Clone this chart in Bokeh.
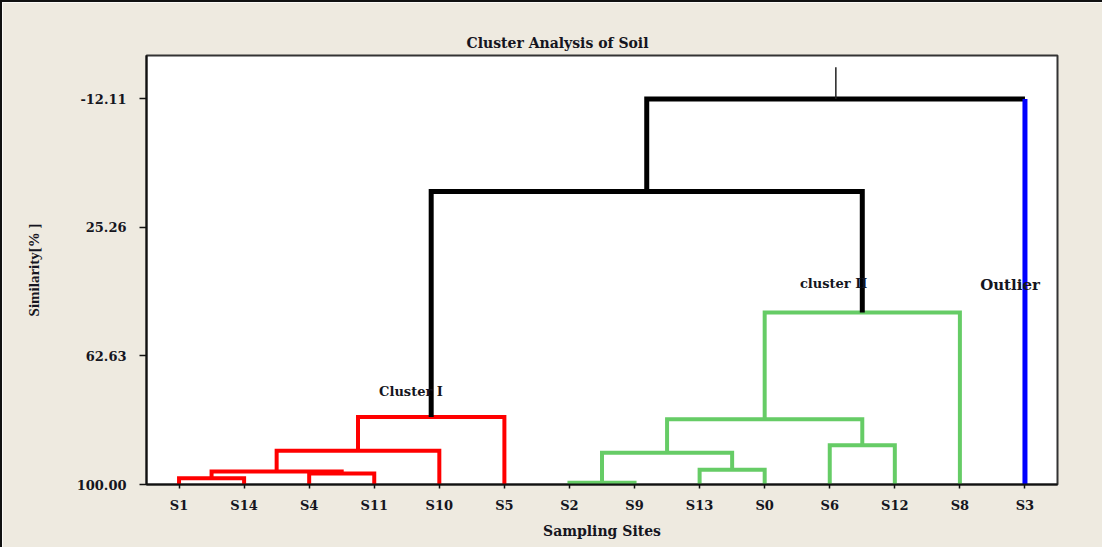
from bokeh.plotting import figure
from bokeh.models import Range1d, FixedTicker, Label, Title
from bokeh.embed import file_html
from bokeh.resources import INLINE

# ---------------- data ----------------
leaves = ["S1", "S14", "S4", "S11", "S10", "S5", "S2", "S9", "S13", "S0", "S6", "S12", "S8", "S3"]
y_ticks = [-12.11, 25.26, 62.63, 100.00]
y_tick_labels = ["-12.11", "25.26", "62.63", "100.00"]

# linkage: ids 0..13 are the leaves, merges get ids 14.. in order
merge_left = [0, 2, 14, 16, 17, 6, 8, 19, 10, 21, 23, 18, 25]
merge_right = [1, 3, 15, 4, 5, 7, 9, 20, 11, 22, 12, 24, 13]
merge_sim = [98.2, 96.8, 96.2, 90.2, 80.4, 99.5, 95.7, 90.8, 88.6, 81.0, 50.0, 14.8, -12.11]
merge_group = ["I", "I", "I", "I", "I", "II", "II", "II", "II", "II", "II", "root", "root"]
right_leg_group = ["I", "I", "I", "I", "I", "II", "II", "II", "II", "II", "II", "root", "outlier"]
leaf_sim = 100.0
root_stub_sim = -21.3

cluster_names = ["Cluster I", "cluster II", "Outlier"]

# ---------------- styles ----------------
group_style = {
    "I": ("#FF0000", 4),
    "II": ("#66CC66", 4),
    "root": ("#000000", 5),
    "outlier": ("#0000FF", 5),
}
BEIGE = "#EEEAE0"
TXT = "#151520"
SERIF = "DejaVu Serif"

p = figure(width=1102, height=547, output_backend="svg", toolbar_location=None,
           x_range=Range1d(0.5, len(leaves) + 0.5), y_range=Range1d(100, -24.73),
           min_border_left=144, min_border_right=47, min_border_top=53, min_border_bottom=65)
p.styles = {"border-top": "2px solid #111111", "border-left": "2px solid #111111"}
p.background_fill_color = "white"
p.border_fill_color = BEIGE
p.outline_line_color = "#333333"
p.outline_line_width = 2
p.xgrid.visible = False
p.ygrid.visible = False

# positions
pos = [i + 1.0 for i in range(len(leaves))]
sim = [leaf_sim] * len(leaves)
for l, r, h in zip(merge_left, merge_right, merge_sim):
    pos.append((pos[l] + pos[r]) / 2.0)
    sim.append(h)

paths = {k: ([], []) for k in group_style}
for k, (l, r, h) in enumerate(zip(merge_left, merge_right, merge_sim)):
    g, gr = merge_group[k], right_leg_group[k]
    if g == gr:
        paths[g][0].append([pos[l], pos[l], pos[r], pos[r]])
        paths[g][1].append([sim[l], h, h, sim[r]])
    else:
        paths[g][0].append([pos[l], pos[l], pos[r]])
        paths[g][1].append([sim[l], h, h])
        paths[gr][0].append([pos[r], pos[r]])
        paths[gr][1].append([h, sim[r]])

for g in ["II", "I", "root", "outlier"]:
    xs, ys = paths[g]
    color, w = group_style[g]
    p.multi_line(xs, ys, line_color=color, line_width=w, line_join="miter")

# root stub
p.line([pos[-1], pos[-1]], [sim[-1], root_stub_sim], line_color="#222222", line_width=1.5)

# axes
p.xaxis.ticker = FixedTicker(ticks=pos[:len(leaves)])
p.xaxis.major_label_overrides = {pos[i]: leaves[i] for i in range(len(leaves))}
p.yaxis.ticker = FixedTicker(ticks=y_ticks)
p.yaxis.major_label_overrides = {t: s for t, s in zip(y_ticks, y_tick_labels)}
for ax in (p.xaxis[0], p.yaxis[0]):
    ax.axis_line_color = "#111111"
    ax.axis_line_width = 2
    ax.major_tick_line_color = "#111111"
    ax.major_tick_line_width = 1.5
    ax.major_tick_in = 0
    ax.minor_tick_line_color = None
    ax.major_label_text_font = SERIF
    ax.major_label_text_font_style = "bold"
    ax.major_label_text_font_size = "13px"
    ax.major_label_text_color = TXT
p.xaxis.major_tick_out = 4
p.yaxis.major_tick_out = 7
p.xaxis.major_label_standoff = 9
p.yaxis.major_label_standoff = 13

p.xaxis.axis_label = "Sampling Sites"
p.xaxis.axis_label_text_font = SERIF
p.xaxis.axis_label_text_font_style = "bold"
p.xaxis.axis_label_text_font_size = "14px"
p.xaxis.axis_label_text_color = TXT
p.xaxis.axis_label_standoff = 7

p.yaxis.axis_label = "Similarity[% ]"
p.yaxis.axis_label_text_font = "Liberation Serif"
p.yaxis.axis_label_text_font_style = "bold"
p.yaxis.axis_label_text_font_size = "15px"
p.yaxis.axis_label_text_color = TXT
p.yaxis.axis_label_standoff = 32

p.title = Title(text="Cluster Analysis of Soil", align="left", offset=320,
                text_font=SERIF, text_font_style="bold", text_font_size="14px",
                text_color=TXT, standoff=10)

# cluster annotations
label_specs = [
    (cluster_names[0], pos[18] - 0.31, 73.0, "13px"),
    (cluster_names[1], pos[24] - 0.44, 41.5, "13px"),
    (cluster_names[2], pos[13] - 0.23, 42.1, "15px"),
]
for txt, x, y, fs in label_specs:
    p.add_layout(Label(x=x, y=y, text=txt, text_align="center", text_baseline="middle",
                       text_font=SERIF, text_font_style="bold", text_font_size=fs,
                       text_color=TXT))

open("out.html", "w").write(file_html(p, INLINE))
